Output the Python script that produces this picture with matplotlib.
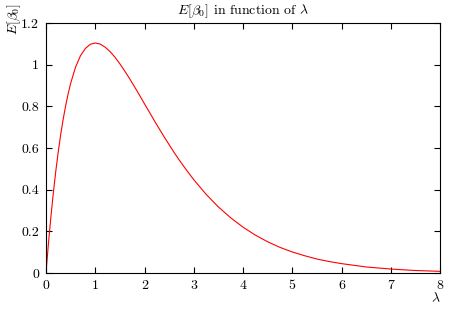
import matplotlib
matplotlib.use("Agg")
import matplotlib.pyplot as plt

# valores
lam = [0, 0.05, 0.1, 0.15, 0.2, 0.25, 0.3, 0.35, 0.4, 0.45, 0.5, 0.6, 0.7, 0.8, 0.9, 1.0,
       1.1, 1.2, 1.3, 1.4, 1.5, 1.6, 1.7, 1.8, 1.9, 2.0, 2.1, 2.2, 2.3, 2.4, 2.5,
       2.6, 2.7, 2.8, 2.9, 3.0, 3.25, 3.5, 3.75, 4.0, 4.25, 4.5, 4.75, 5.0,
       5.25, 5.5, 5.75, 6.0, 6.5, 7.0, 7.5, 8.0]
e_beta0 = [0, 0.143, 0.271, 0.387, 0.491, 0.584, 0.667, 0.740, 0.804, 0.861, 0.910, 0.988,
           1.043, 1.078, 1.098, 1.104, 1.099, 1.084, 1.063, 1.036, 1.004, 0.969, 0.932,
           0.893, 0.853, 0.812, 0.772, 0.731, 0.692, 0.653, 0.616, 0.579, 0.544, 0.511,
           0.479, 0.448, 0.378, 0.317, 0.265, 0.220, 0.182, 0.150, 0.123, 0.101,
           0.083, 0.067, 0.055, 0.045, 0.029, 0.019, 0.012, 0.008]
xticks = [0, 1, 2, 3, 4, 5, 6, 7, 8]
yticks = [0, 0.2, 0.4, 0.6, 0.8, 1, 1.2]

plt.rcParams["font.family"] = "serif"
plt.rcParams["font.serif"] = ["cmr10"]
plt.rcParams["mathtext.fontset"] = "cm"
plt.rcParams["axes.formatter.use_mathtext"] = True

fig = plt.figure(figsize=(4.52, 3.11), dpi=100)
ax = fig.add_axes([46 / 452, 1 - 273 / 311, 394 / 452, 250 / 311])
ax.plot(lam, e_beta0, color="red", lw=0.8)
ax.set_xlim(0, 8)
ax.set_ylim(0, 1.2)
ax.set_xticks(xticks)
ax.set_xticklabels([str(t) for t in xticks])
ax.set_yticks(yticks)
ax.set_yticklabels([f"{t:g}" for t in yticks])
ax.tick_params(direction="in", length=4, width=0.8, top=True, right=True,
               labelsize=10, pad=5)
for s in ax.spines.values():
    s.set_linewidth(0.8)
ax.set_title(r"$E[\beta_0]$ in function of $\lambda$", fontsize=10, pad=6)
fig.text(14 / 452, 1 - 19 / 311, r"$E[\beta_0]$", rotation=90, fontsize=10,
         ha="center", va="center")
fig.text(436 / 452, 1 - 299 / 311, r"$\lambda$", fontsize=10, ha="center", va="center")
fig.savefig("out.png", dpi=100)
